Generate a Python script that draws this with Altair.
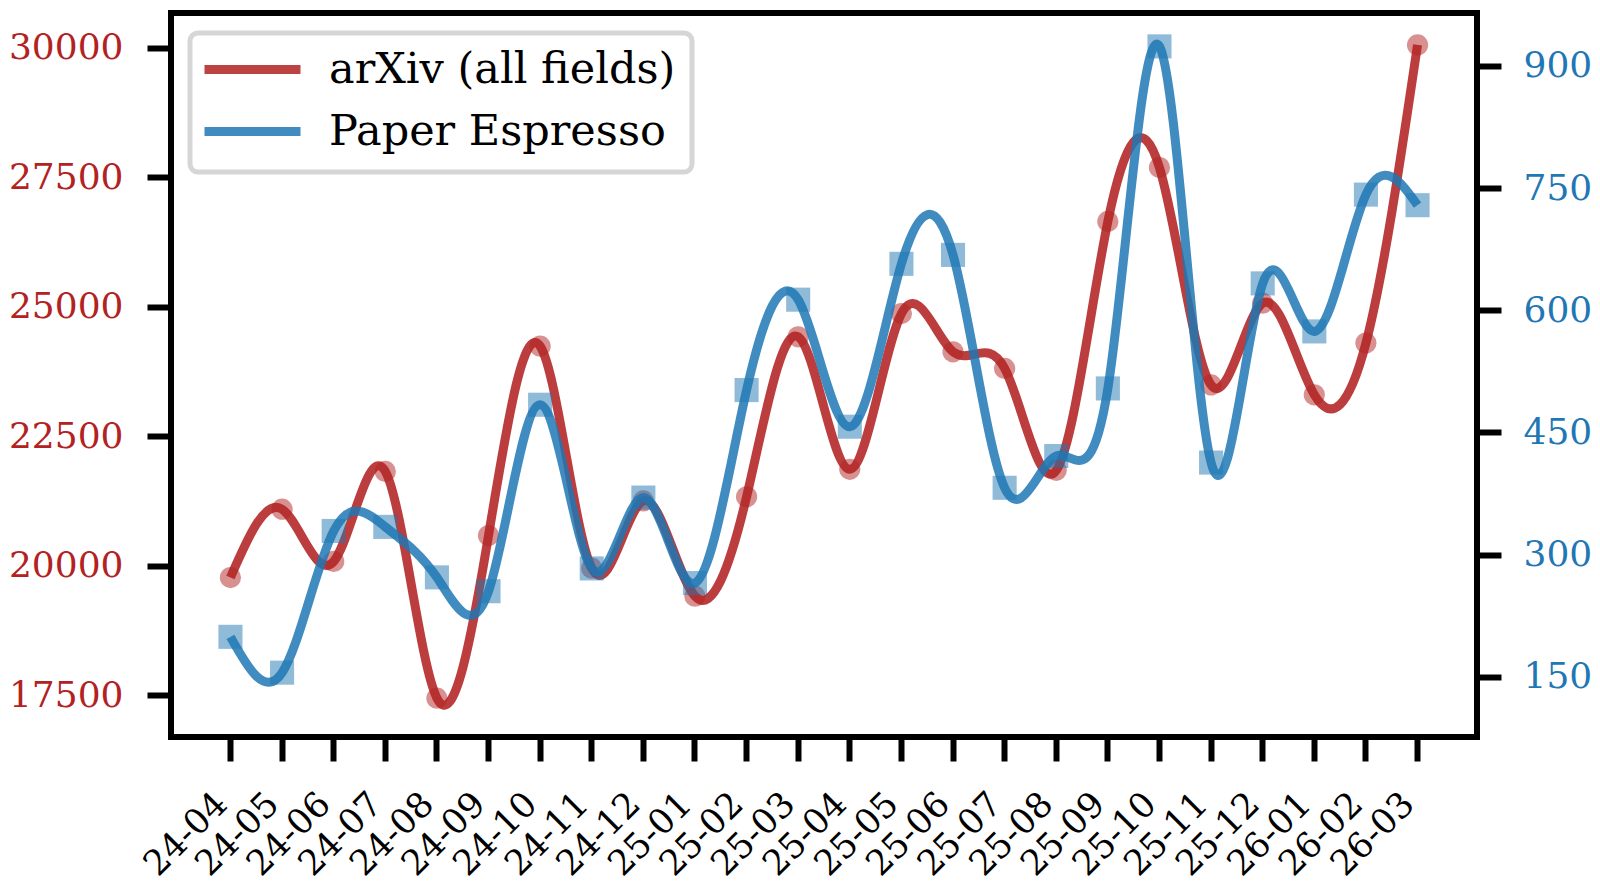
import altair as alt
import pandas as pd

months = ["24-04", "24-05", "24-06", "24-07", "24-08", "24-09", "24-10", "24-11",
          "24-12", "25-01", "25-02", "25-03", "25-04", "25-05", "25-06", "25-07",
          "25-08", "25-09", "25-10", "25-11", "25-12", "26-01", "26-02", "26-03"]
arxiv = [19770, 21090, 20080, 21820, 17440, 20580, 24240, 19950,
         21250, 19410, 21330, 24420, 21860, 24870, 24130, 23810,
         21840, 26650, 27690, 23490, 25070, 23300, 24300, 30060]
espresso = [199, 155, 329, 334, 272, 255, 484, 283,
            370, 265, 502, 613, 457, 657, 668, 382,
            421, 504, 924, 413, 633, 574, 742, 729]
left_ticks = [17500, 20000, 22500, 25000, 27500, 30000]
right_ticks = [150, 300, 450, 600, 750, 900]
series = ["arXiv (all fields)", "Paper Espresso"]
colors = ["#b22222", "#1f77b4"]

FONT = "DejaVu Serif"
FS = 36

df = pd.DataFrame({"month": months, "arxiv": arxiv, "espresso": espresso})
base = alt.Chart(df)

x = alt.X("month:O", sort=months,
          scale=alt.Scale(type="band", paddingInner=0, paddingOuter=0.652),
          axis=alt.Axis(title=None, labelAngle=-45, labelAlign="right",
                        labelBaseline="middle", labelPadding=37, labelOffset=-9,
                        labelFont=FONT, labelFontSize=35, labelColor="black",
                        tickSize=24, tickWidth=6, tickColor="black",
                        domain=False, grid=False))

# legend symbol: a horizontal stroke; the zero-length sub-path only widens the
# legend box (like matplotlib's frame padding) and is not drawn
color = alt.Color("series:N",
                  scale=alt.Scale(domain=series, range=colors),
                  legend=alt.Legend(title=None, orient="none", legendX=19, legendY=20,
                                    symbolType="M-2,0H2M17.2,0.6L17.2,0.6", symbolSize=2304,
                                    symbolStrokeWidth=9, symbolOpacity=0.85,
                                    symbolOffset=26, labelOffset=48,
                                    labelFont=FONT, labelFontSize=43, labelColor="black",
                                    labelLimit=700, rowPadding=1,
                                    padding=8, fillColor="rgba(255,255,255,0.8)",
                                    strokeColor="#d6d6d6", cornerRadius=8))

left_axis = alt.Axis(title=None, orient="left", values=left_ticks, format="d",
                     labelFont=FONT, labelFontSize=FS, labelColor=colors[0],
                     labelPadding=24, tickSize=24, tickWidth=6, tickColor="black",
                     domain=False, grid=False)
right_axis = alt.Axis(title=None, orient="right", values=right_ticks, format="d",
                      labelFont=FONT, labelFontSize=FS, labelColor=colors[1],
                      labelPadding=22, tickSize=24, tickWidth=6, tickColor="black",
                      domain=False, grid=False)

y_left = alt.Y("arxiv:Q", scale=alt.Scale(domain=[16689, 30676], nice=False, zero=False),
               axis=left_axis)
y_right = alt.Y("espresso:Q", scale=alt.Scale(domain=[76, 965], nice=False, zero=False),
                axis=right_axis)

red_pts = base.mark_point(shape="circle", filled=True, size=450, color=colors[0],
                          opacity=0.5).encode(x=x, y=y_left)
red_line = base.transform_calculate(series="'" + series[0] + "'").mark_line(
    interpolate="natural", strokeWidth=9, opacity=0.88).encode(x=x, y=y_left, color=color)
blue_pts = base.mark_point(shape="square", filled=True, size=580, color=colors[1],
                           opacity=0.5).encode(x=x, y=y_right)
blue_line = base.transform_calculate(series="'" + series[1] + "'").mark_line(
    interpolate="natural", strokeWidth=9, opacity=0.85).encode(x=x, y=y_right, color=color)

left = alt.layer(red_pts, red_line)
right = alt.layer(blue_pts, blue_line)

chart = alt.layer(left, right).resolve_scale(y="independent").properties(
    width=1306, height=724,
    padding={"left": 0, "top": 5, "right": 0, "bottom": 0},
).configure_view(stroke="black", strokeWidth=6).configure_legend(strokeWidth=5)

chart.save("out.html", embed_options={"renderer": "svg", "actions": False})
